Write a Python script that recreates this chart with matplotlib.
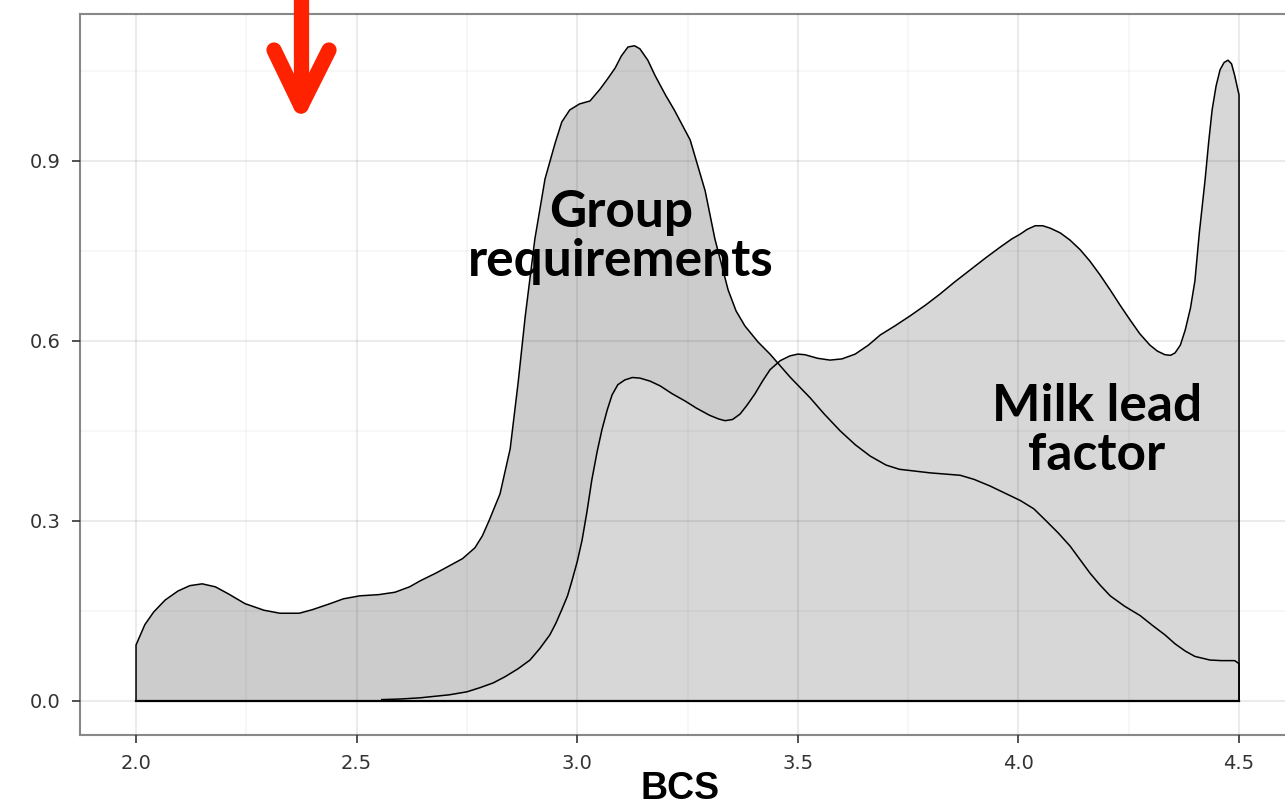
import matplotlib.pyplot as plt
from matplotlib.lines import Line2D

# densidade "Group requirements" (BCS x densidade)
grp_x = [2.0, 2.0, 2.01, 2.02, 2.04, 2.066, 2.095, 2.122, 2.15, 2.18, 2.21, 2.247, 2.29,
         2.326, 2.37, 2.40, 2.44, 2.47, 2.507, 2.55, 2.587, 2.62, 2.644, 2.68, 2.71, 2.74,
         2.768, 2.785, 2.80, 2.825, 2.848, 2.866, 2.882, 2.904, 2.927, 2.95, 2.965, 2.983,
         3.005, 3.029, 3.052, 3.07, 3.086, 3.10, 3.115, 3.13, 3.142, 3.16, 3.176, 3.20,
         3.22, 3.256, 3.29, 3.312, 3.342, 3.36, 3.38, 3.41, 3.437, 3.482, 3.528, 3.56,
         3.596, 3.63, 3.664, 3.70, 3.73, 3.80, 3.868, 3.90, 3.936, 3.97, 4.004, 4.035,
         4.06, 4.09, 4.117, 4.14, 4.162, 4.185, 4.208, 4.24, 4.276, 4.305, 4.332, 4.355,
         4.378, 4.40, 4.434, 4.46, 4.49, 4.5, 4.5]
grp_y = [0.0, 0.093, 0.11, 0.127, 0.148, 0.168, 0.183, 0.192, 0.195, 0.19, 0.178, 0.162,
         0.151, 0.146, 0.146, 0.152, 0.162, 0.17, 0.175, 0.177, 0.181, 0.19, 0.2, 0.213,
         0.225, 0.237, 0.255, 0.275, 0.30, 0.345, 0.42, 0.53, 0.64, 0.77, 0.87, 0.93,
         0.965, 0.985, 0.995, 1.0, 1.02, 1.038, 1.055, 1.075, 1.09, 1.092, 1.087, 1.068,
         1.043, 1.01, 0.985, 0.935, 0.85, 0.77, 0.685, 0.65, 0.625, 0.598, 0.578, 0.54,
         0.505, 0.478, 0.45, 0.427, 0.408, 0.393, 0.386, 0.38, 0.376, 0.369, 0.358,
         0.346, 0.334, 0.32, 0.302, 0.28, 0.258, 0.235, 0.213, 0.193, 0.175, 0.158, 0.142,
         0.125, 0.11, 0.095, 0.083, 0.074, 0.068, 0.067, 0.067, 0.062, 0.0]

# densidade "Milk lead factor"
milk_x = [2.557, 2.60, 2.644, 2.71, 2.75, 2.78, 2.81, 2.836, 2.865, 2.893, 2.915, 2.938,
          2.952, 2.965, 2.978, 2.988, 3.0, 3.011, 3.022, 3.033, 3.045, 3.056, 3.068, 3.079,
          3.092, 3.108, 3.125, 3.142, 3.165, 3.188, 3.215, 3.244, 3.27, 3.30, 3.32, 3.335,
          3.352, 3.369, 3.385, 3.403, 3.42, 3.437, 3.46, 3.482, 3.50, 3.516, 3.545, 3.573,
          3.60, 3.63, 3.66, 3.687, 3.72, 3.755, 3.79, 3.822, 3.855, 3.89, 3.925, 3.958,
          3.985, 4.004, 4.02, 4.038, 4.055, 4.072, 4.095, 4.117, 4.14, 4.162, 4.185, 4.208,
          4.23, 4.253, 4.275, 4.298, 4.315, 4.332, 4.345, 4.355, 4.367, 4.378, 4.39, 4.40,
          4.41, 4.423, 4.431, 4.439, 4.448, 4.457, 4.466, 4.475, 4.483, 4.49, 4.5, 4.5]
milk_y = [0.002, 0.003, 0.005, 0.01, 0.015, 0.022, 0.03, 0.04, 0.053, 0.068, 0.087, 0.11,
          0.13, 0.152, 0.175, 0.2, 0.232, 0.268, 0.315, 0.368, 0.415, 0.452, 0.485, 0.51,
          0.527, 0.535, 0.539, 0.538, 0.533, 0.525, 0.512, 0.5, 0.488, 0.476, 0.47, 0.467,
          0.469, 0.478, 0.493, 0.512, 0.533, 0.552, 0.567, 0.575, 0.578, 0.577, 0.571,
          0.568, 0.57, 0.578, 0.593, 0.61, 0.625, 0.642, 0.66, 0.678, 0.698, 0.718, 0.738,
          0.756, 0.77, 0.778, 0.786, 0.792, 0.792, 0.788, 0.78, 0.768, 0.752, 0.733, 0.71,
          0.685, 0.66, 0.635, 0.612, 0.593, 0.583, 0.577, 0.576, 0.58, 0.593, 0.618, 0.655,
          0.70, 0.78, 0.868, 0.93, 0.985, 1.025, 1.052, 1.064, 1.068, 1.062, 1.043, 1.01,
          0.0]

x_ticks = [2.0, 2.5, 3.0, 3.5, 4.0, 4.5]
y_ticks = [0.0, 0.3, 0.6, 0.9]

fig = plt.figure(figsize=(12.85, 8.08), dpi=100)
ax = fig.add_axes([80 / 1285, 73 / 808, 1.0, 721 / 808])
ax.set_xlim(1.873, 1.873 + 1285 / 441.2)
ax.set_ylim(-0.057, 1.145)

ax.fill_between(grp_x, 0, grp_y, color="#cccccc", linewidth=0, zorder=1)
ax.plot(grp_x, grp_y, color="black", lw=1.1, zorder=3)
ax.fill_between(milk_x, 0, milk_y, color="#d7d7d7", linewidth=0, zorder=2)
ax.plot(milk_x, milk_y, color="black", lw=1.1, zorder=3)
ax.plot([2.0, 4.5], [0, 0], color="black", lw=1.6, zorder=3)

# grade por cima (transparente)
ax.set_xticks(x_ticks)
ax.set_yticks(y_ticks)
ax.set_xticks([2.25, 2.75, 3.25, 3.75, 4.25], minor=True)
ax.set_yticks([0.15, 0.45, 0.75, 1.05], minor=True)
ax.grid(True, which="major", color="black", alpha=0.08, lw=1.5, zorder=4)
ax.grid(True, which="minor", color="black", alpha=0.035, lw=1.2, zorder=4)
ax.set_axisbelow(False)
ax.tick_params(which="minor", length=0)
ax.tick_params(which="major", length=6, width=1.2, color="#333333",
               labelsize=14, labelcolor="#333333", pad=8)
ax.set_xticklabels([f"{v:.1f}" for v in x_ticks])
ax.set_yticklabels([f"{v:.1f}" for v in y_ticks])

for s in ax.spines.values():
    s.set_color("#888888")
    s.set_linewidth(1.5)

fig.text(680 / 1285, 1 / 808, "BCS", ha="center", va="bottom", fontsize=27,
         fontweight="bold", family="Liberation Sans")

ax.text(3.099, 0.773, "Group\nrequirements", ha="center", va="center", fontsize=37,
        fontweight="bold", family="Lato", linespacing=1.05, zorder=5)
ax.text(4.178, 0.45, "Milk lead\nfactor", ha="center", va="center", fontsize=37,
        fontweight="bold", family="Lato", linespacing=1.05, zorder=5)

# seta vermelha
red = "#ff2200"
def seg(x0, y0, x1, y1):
    fig.add_artist(Line2D([x0 / 1285, x1 / 1285], [1 - y0 / 808, 1 - y1 / 808],
                          color=red, lw=11, solid_capstyle="round",
                          solid_joinstyle="miter", transform=fig.transFigure))
seg(301, -10, 301, 100)
seg(274, 50, 301, 106)
seg(329, 50, 301, 106)

plt.savefig("out.png", dpi=100)
plt.close()
